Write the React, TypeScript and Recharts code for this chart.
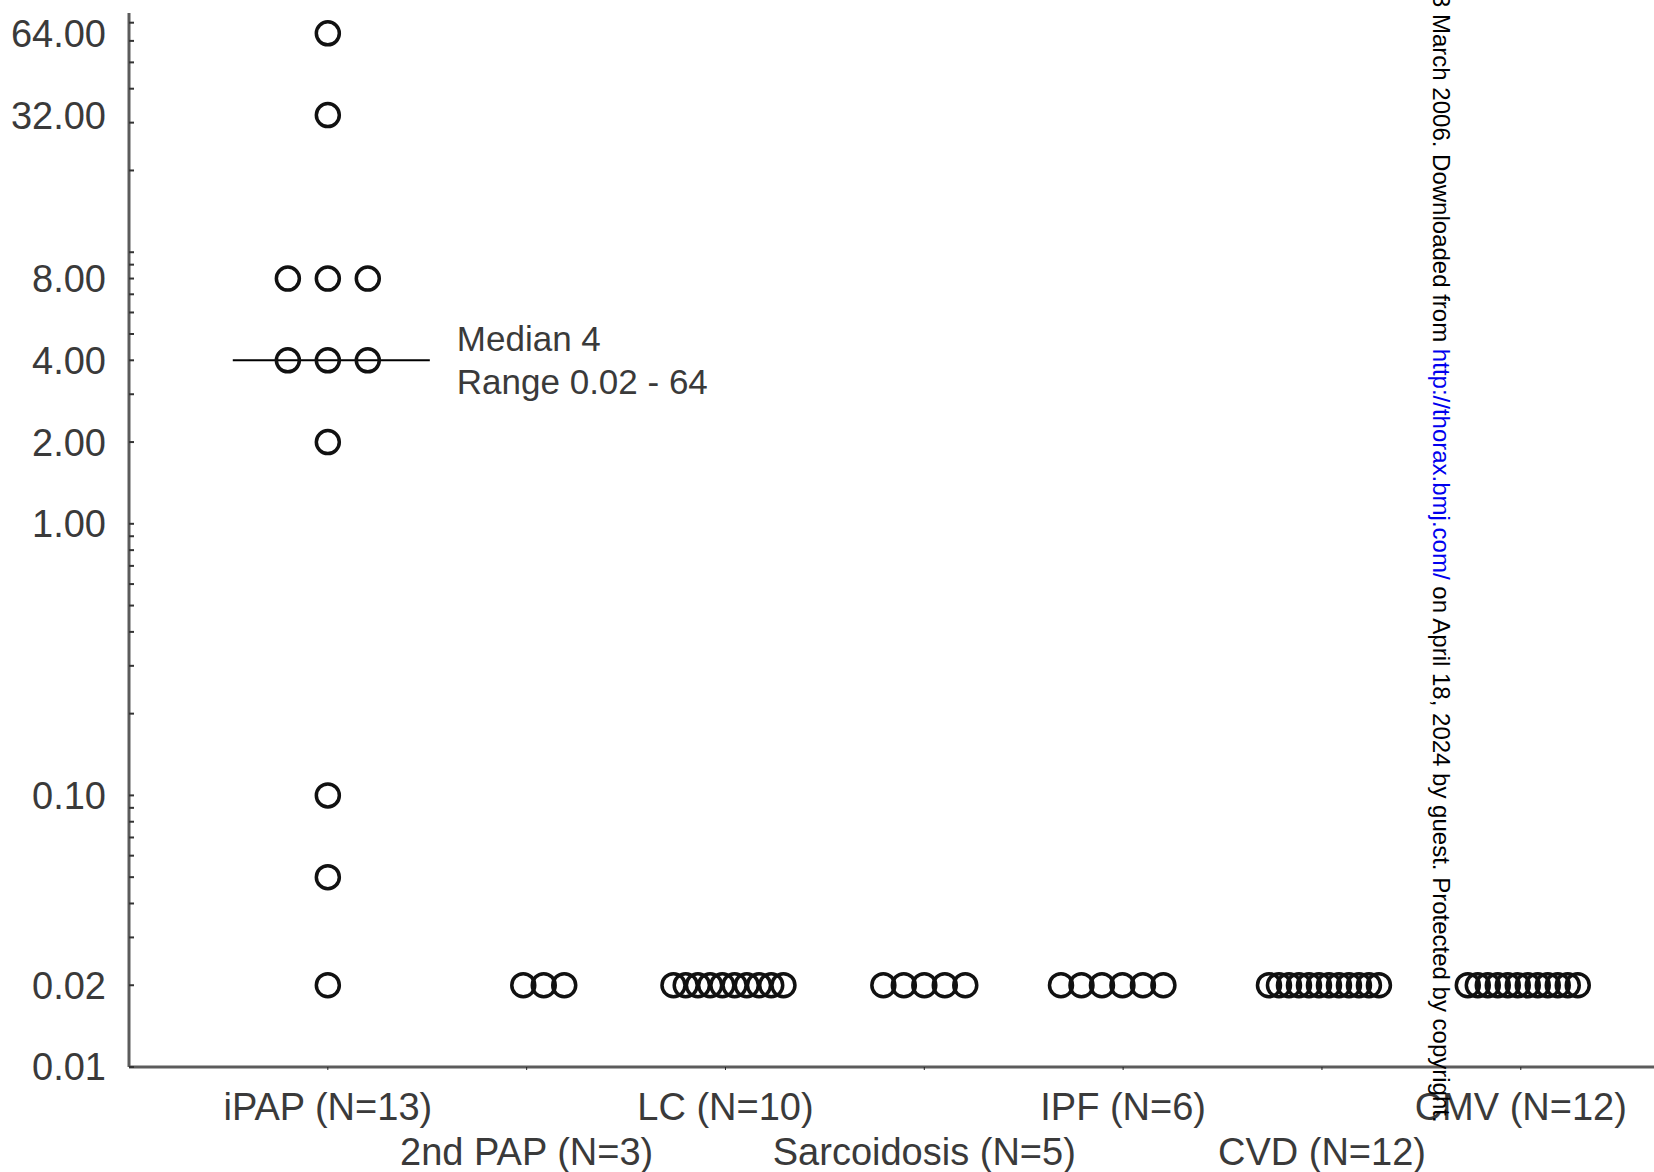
import React from 'react'
import { ScatterChart, Scatter, XAxis, YAxis, ReferenceLine } from 'recharts'

// titre per patient group, log scale
const categories = [
  'iPAP (N=13)',
  '2nd PAP (N=3)',
  'LC (N=10)',
  'Sarcoidosis (N=5)',
  'IPF (N=6)',
  'CVD (N=12)',
  'CMV (N=12)',
]

const ipap = [64, 32, 8, 8, 8, 4, 4, 4, 2, 0.1, 0.05, 0.02]
const secondPap = [0.02, 0.02, 0.02]
const lc = [0.02, 0.02, 0.02, 0.02, 0.02, 0.02, 0.02, 0.02, 0.02, 0.02]
const sarcoidosis = [0.02, 0.02, 0.02, 0.02, 0.02]
const ipf = [0.02, 0.02, 0.02, 0.02, 0.02, 0.02]
const cvd = [0.02, 0.02, 0.02, 0.02, 0.02, 0.02, 0.02, 0.02, 0.02, 0.02, 0.02, 0.02]
const cmv = [0.02, 0.02, 0.02, 0.02, 0.02, 0.02, 0.02, 0.02, 0.02, 0.02, 0.02, 0.02]

const yTicks = [0.01, 0.02, 0.1, 1, 2, 4, 8, 32, 64]
const yMinorTicks = [
  0.01, 0.02, 0.03, 0.04, 0.05, 0.06, 0.07, 0.08, 0.09,
  0.1, 0.2, 0.3, 0.4, 0.5, 0.6, 0.7, 0.8, 0.9,
  1, 2, 3, 4, 5, 6, 7, 8, 9,
  10, 20, 30, 40, 50, 60, 70,
]
const categoryTicks = [0, 1, 2, 3, 4, 5, 6]

const medianValue = 4
const medianText = 'Median 4'
const rangeText = 'Range 0.02 - 64'

const watermark = {
  before: '3 March 2006. Downloaded from ',
  link: 'http://thorax.bmj.com/',
  after: ' on April 18, 2024 by guest. Protected by copyright.',
}

// layout
const W = 1654
const H = 1172
const FONT = "'Liberation Sans', Arial, sans-serif"
const TEXT = '#3a3a3a'
const AXIS = '#5c5c5c'
const DOT_STEP = 0.103
const DOT_SPAN = 0.553
const STEP_OVERRIDE: (number | null)[] = [0.201, null, null, null, null, null, null]
const GROUP_SHIFT = [0, 0.086, 0.015, 0, -0.055, 0.01, 0.01]

const groups = [ipap, secondPap, lc, sarcoidosis, ipf, cvd, cmv]

// spread equal values side by side, like a dot plot
const points = groups.flatMap((vals, i) => {
  const counts = new Map<number, number>()
  vals.forEach((v) => counts.set(v, (counts.get(v) ?? 0) + 1))
  const out: { x: number; y: number }[] = []
  counts.forEach((n, v) => {
    const step = n > 1 ? STEP_OVERRIDE[i] ?? Math.min(DOT_STEP, DOT_SPAN / (n - 1)) : 0
    for (let k = 0; k < n; k++) {
      out.push({ x: i + GROUP_SHIFT[i] + (k - (n - 1) / 2) * step, y: v })
    }
  })
  return out
})

function Ring(props: any) {
  const { cx, cy } = props
  if (cx == null || cy == null) return null
  return <circle cx={cx} cy={cy} r={11.5} fill="none" stroke="#111" strokeWidth={3.5} />
}

function CategoryTick(props: any) {
  const { x, y, payload } = props
  const idx = Math.round(payload.value)
  const row = idx % 2
  return (
    <text
      x={x}
      y={y + (row === 0 ? 35 : 80)}
      textAnchor="middle"
      dominantBaseline="central"
      fill={TEXT}
      fontSize={38}
      fontFamily={FONT}
    >
      {categories[idx]}
    </text>
  )
}

function MedianLabel(props: any) {
  const vb = props.viewBox ?? {}
  const x = (vb.x ?? 0) + (vb.width ?? 0) + 27
  const y = vb.y ?? 0
  return (
    <g fill={TEXT} fontSize={35} fontFamily={FONT}>
      <text x={x} y={y - 22} dominantBaseline="central">{medianText}</text>
      <text x={x} y={y + 21} dominantBaseline="central">{rangeText}</text>
    </g>
  )
}

export default function App() {
  return (
    <div style={{ position: 'absolute', left: 0, top: 0, width: W, height: H, background: '#fff' }}>
      <ScatterChart width={W} height={H} margin={{ top: 13, right: 0, bottom: 0, left: 0 }}>
        <XAxis
          type="number"
          dataKey="x"
          domain={[-1, 6.67]}
          ticks={categoryTicks}
          interval={0}
          allowDataOverflow
          height={105}
          axisLine={{ stroke: AXIS, strokeWidth: 3 }}
          tickLine={{ stroke: '#222' }}
          tickSize={3}
          tick={<CategoryTick />}
        />
        <YAxis
          yAxisId="main"
          type="number"
          dataKey="y"
          scale="log"
          domain={[0.01, 76]}
          allowDataOverflow
          ticks={yTicks}
          interval={0}
          width={129}
          axisLine={{ stroke: AXIS, strokeWidth: 3 }}
          tickLine={false}
          tickSize={0}
          tickMargin={23}
          tick={{ fill: TEXT, fontSize: 38, fontFamily: FONT }}
          tickFormatter={(v: number) => v.toFixed(2)}
        />
        <YAxis
          yAxisId="minor"
          type="number"
          scale="log"
          domain={[0.01, 76]}
          allowDataOverflow
          ticks={yMinorTicks}
          interval={0}
          mirror
          width={60}
          axisLine={false}
          tickLine={{ stroke: '#333', strokeWidth: 2 }}
          tickSize={5}
          tickFormatter={() => ''}
        />
        <ReferenceLine
          yAxisId="main"
          segment={[
            { x: -0.478, y: medianValue },
            { x: 0.513, y: medianValue },
          ]}
          stroke="#000"
          strokeWidth={2}
          ifOverflow="visible"
          label={(p: any) => <MedianLabel {...p} />}
        />
        <Scatter yAxisId="main" data={points} isAnimationActive={false} shape={Ring} />
      </ScatterChart>
      <svg
        width={W}
        height={H}
        style={{ position: 'absolute', left: 0, top: 0, pointerEvents: 'none' }}
      >
        <text transform="translate(1433,-6) rotate(90)" fontSize={24} fontFamily={FONT} fill="#000">
          {watermark.before}
          <tspan fill="#0000ee">{watermark.link}</tspan>
          {watermark.after}
        </text>
      </svg>
    </div>
  )
}
